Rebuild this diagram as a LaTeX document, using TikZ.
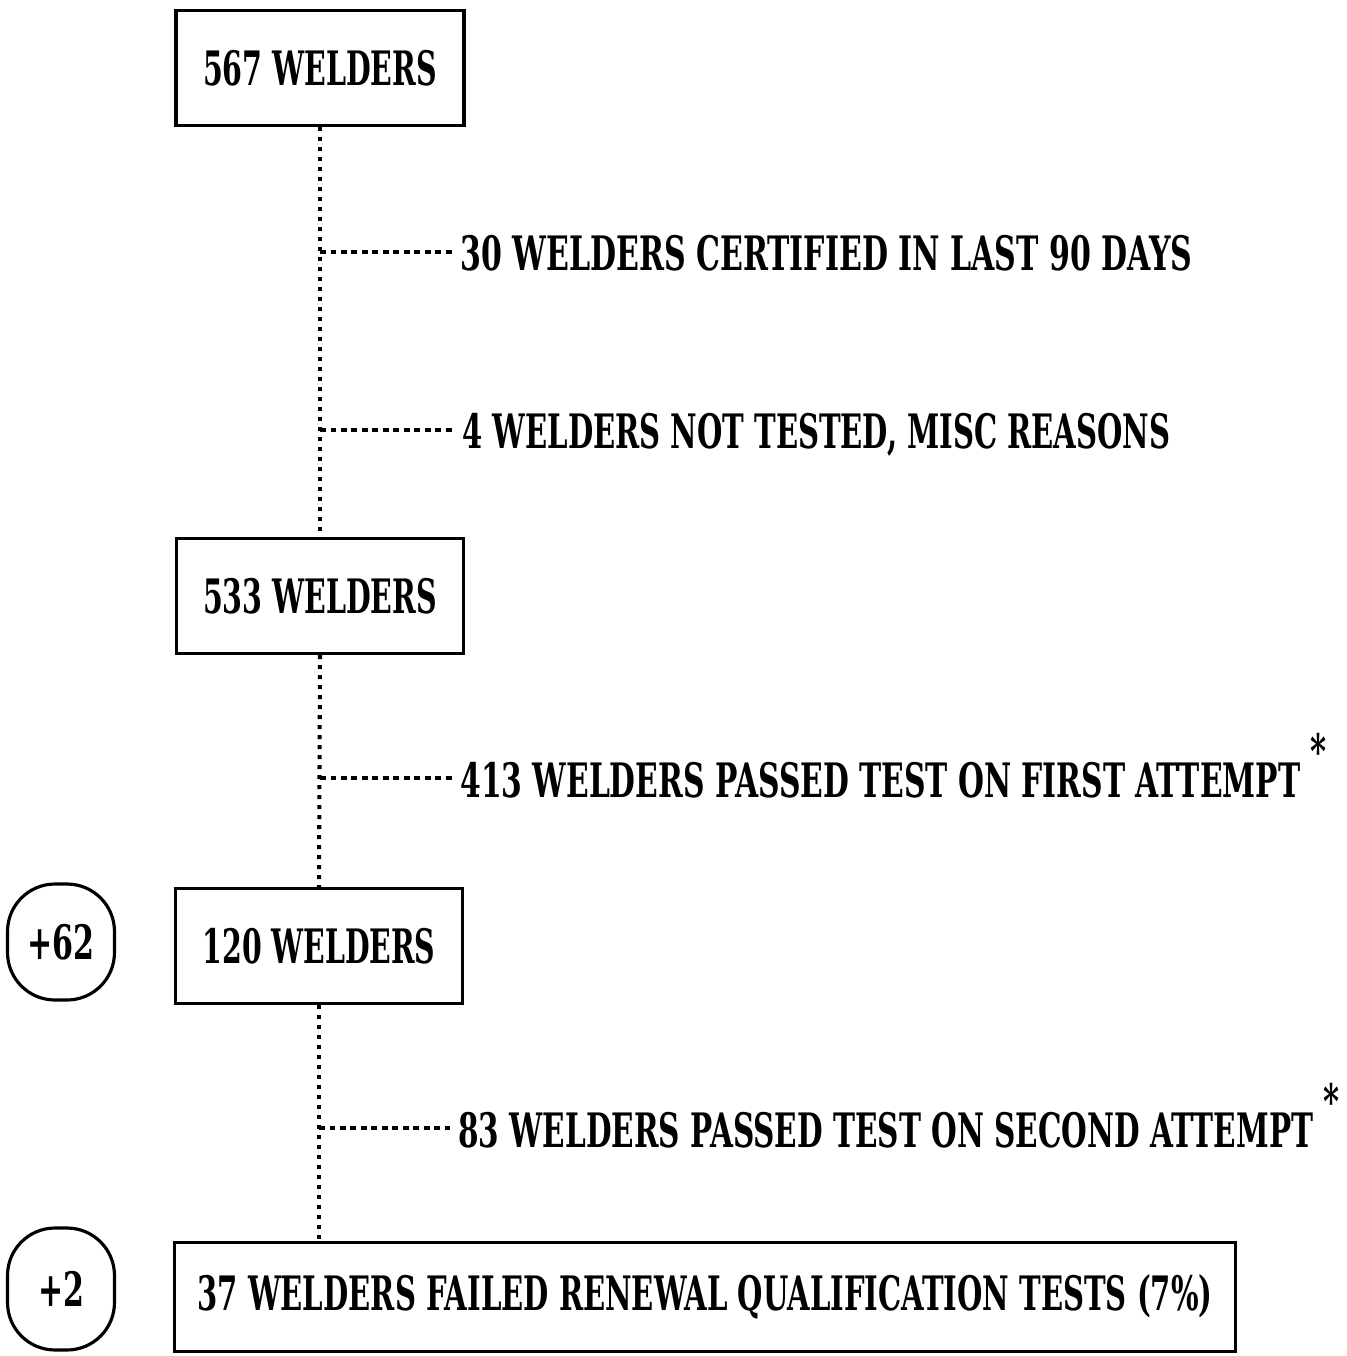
\documentclass[tikz,border=0pt]{standalone}
\usepackage{fontspec}
\setmainfont{DejaVu Serif Condensed}
\usetikzlibrary{calc}
\newcommand\fw[2]{\resizebox{#1}{\height}{#2}}
\newcommand\astk{\raisebox{0.6em}{\fw{0.32cm}{*}}}
\begin{document}
\begin{tikzpicture}[x=0.02cm,y=-0.02cm,
  txt/.style={font=\fontsize{27}{30}\selectfont\bfseries, inner sep=0pt},
  box/.style={draw, line width=1.8pt, txt, minimum height=2.3cm, inner xsep=0pt},
  pill/.style={draw, line width=1.8pt, txt, rounded corners=0.95cm, minimum width=2.14cm},
  vline/.style={line width=2.3pt, dash pattern=on 0.08cm off 0.12cm},
  hline/.style={line width=2pt, dash pattern=on 0.12cm off 0.09cm}]
\useasboundingbox (0,0) rectangle (1346,1356);
\node[box, minimum width=5.76cm] (b1) at (320,68) {\fw{4.68cm}{567 WELDERS}};
\node[box, minimum width=5.74cm] (b2) at (320,596) {\fw{4.68cm}{533 WELDERS}};
\node[box, minimum width=5.74cm, minimum height=2.3cm] (b3) at (319,946) {\fw{4.66cm}{120 WELDERS}};
\node[box, minimum width=21.22cm, minimum height=2.18cm] (b4) at (705,1297) {\fw{20.3cm}{37 WELDERS FAILED RENEWAL QUALIFICATION TESTS (7\%)}};
\node[pill, minimum height=2.32cm] (p1) at (61,942) {\fw{1.34cm}{+62}};
\node[pill, minimum height=2.44cm] (p2) at (61,1289) {\fw{0.92cm}{+2}};
\draw[vline] (b1.south) -- (b2.north);
\draw[vline] (b2.south) -- (b3.north);
\draw[vline] (b3.south) -- (b3.south |- b4.north);
\node[txt, anchor=base west] (t1) at (460,270) {\fw{14.64cm}{30 WELDERS CERTIFIED IN LAST 90 DAYS}};
\node[txt, anchor=base west] (t2) at (462,448) {\fw{14.16cm}{4 WELDERS NOT TESTED, MISC REASONS}};
\node[txt, anchor=base west] (t3) at (460,797) {\fw{16.8cm}{413 WELDERS PASSED TEST ON FIRST ATTEMPT}\hspace{0.2cm}\astk};
\node[txt, anchor=base west] (t4) at (458,1147) {\fw{17.1cm}{83 WELDERS PASSED TEST ON SECOND ATTEMPT}\hspace{0.2cm}\astk};
\coordinate (j1) at (320,252);
\coordinate (j2) at (320,430);
\coordinate (j3) at (320,778);
\coordinate (j4) at (319,1128);
\draw[hline] (j1) -- ([xshift=-0.16cm]j1 -| t1.west);
\draw[hline] (j2) -- ([xshift=-0.16cm]j2 -| t2.west);
\draw[hline] (j3) -- ([xshift=-0.16cm]j3 -| t3.west);
\draw[hline] (j4) -- ([xshift=-0.16cm]j4 -| t4.west);
\end{tikzpicture}
\end{document}
